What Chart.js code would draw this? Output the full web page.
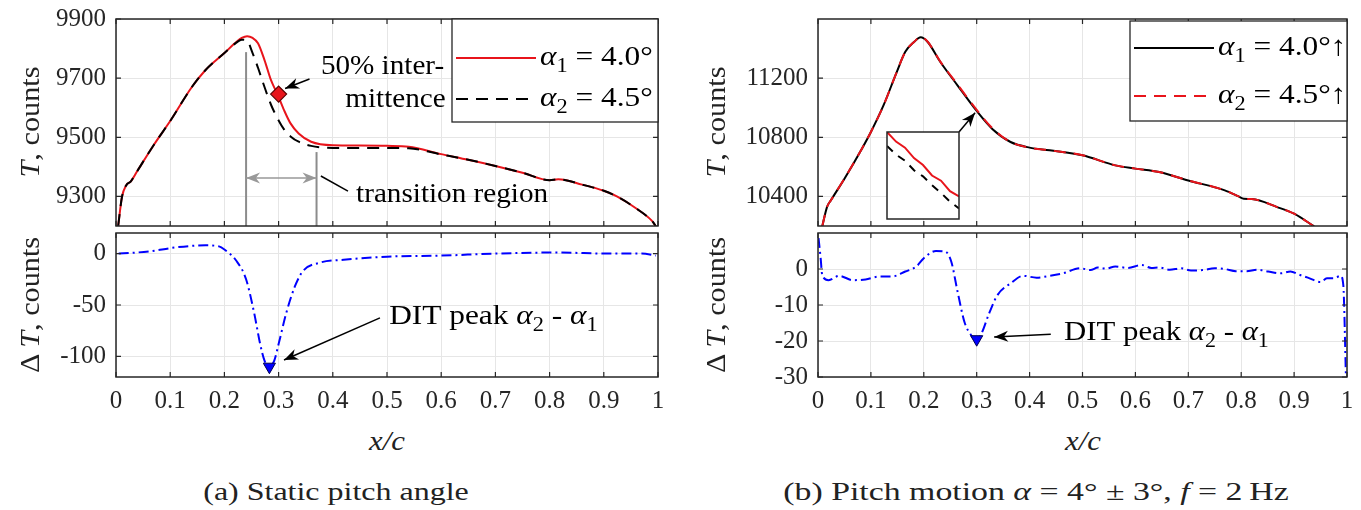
<!DOCTYPE html>
<html>
<head>
<meta charset="utf-8">
<script src="https://cdn.jsdelivr.net/npm/chart.js@4"></script>
<style>
body { margin: 0; background: #fff; }
#wrap { position: relative; width: 1361px; height: 510px; overflow: hidden; font-family: "Liberation Serif", serif; color: #222; }
canvas { position: absolute; }
.ytitle { position: absolute; transform: translate(-50%, -50%) rotate(-90deg) scaleX(1.08); white-space: nowrap; font-size: 28px; }
.xtitle { position: absolute; transform: translate(-50%, -50%) scaleX(1.1); font-size: 28px; font-style: italic; }
.cap { position: absolute; white-space: nowrap; font-size: 26px; }
</style>
</head>
<body>
<div id="wrap">
  <canvas id="cA1" width="680" height="230" style="left:0;top:0"></canvas>
  <canvas id="cA2" width="680" height="188" style="left:0;top:230px"></canvas>
  <canvas id="cB1" width="681" height="230" style="left:680px;top:0"></canvas>
  <canvas id="cB2" width="681" height="188" style="left:680px;top:230px"></canvas>
  <canvas id="cIn" width="74" height="89" style="left:886px;top:131px"></canvas>

  <div class="ytitle" style="left:30px;top:122px"><i>T</i>, counts</div>
  <div class="ytitle" style="left:30px;top:305px">&Delta; <i>T</i>, counts</div>
  <div class="ytitle" style="left:716px;top:122px"><i>T</i>, counts</div>
  <div class="ytitle" style="left:716px;top:305px">&Delta; <i>T</i>, counts</div>
  <div class="xtitle" style="left:387px;top:441px">x/c</div>
  <div class="xtitle" style="left:1083px;top:441px">x/c</div>
  <div class="cap" style="left:336px;top:492px;transform:translate(-50%,-50%) scaleX(1.23)">(a) Static pitch angle</div>
  <div class="cap" style="left:1036px;top:492px;transform:translate(-50%,-50%) scaleX(1.3)">(b) Pitch motion <i>&alpha;</i> = 4&deg; &plusmn; 3&deg;, <i>f</i> = 2&thinsp;Hz</div>
</div>

<script>
// ---- (a) static pitch angle, temperature ----
const xA  = [0.004, 0.011, 0.019, 0.027, 0.039, 0.07, 0.1, 0.14, 0.164, 0.2, 0.222, 0.232, 0.242, 0.252, 0.262, 0.274, 0.286, 0.298, 0.31, 0.322, 0.337, 0.36, 0.4, 0.45, 0.5, 0.54, 0.6, 0.65, 0.7, 0.75, 0.8, 0.816, 0.86, 0.9, 0.925, 0.96, 0.988, 0.996];
const tA1 = [9200, 9298, 9338, 9350, 9385, 9475, 9555, 9670, 9725, 9785, 9822, 9836, 9842, 9836, 9818, 9761, 9693, 9645, 9592, 9547, 9513, 9485, 9473, 9472, 9471, 9468, 9443, 9424, 9403, 9380, 9355, 9358, 9340, 9319, 9299, 9259, 9219, 9200];
const tA2 = [9200, 9298, 9338, 9350, 9385, 9475, 9555, 9670, 9725, 9785, 9820, 9830, 9826, 9785, 9735, 9670, 9610, 9564, 9527, 9503, 9485, 9471, 9464, 9464, 9464, 9463, 9442, 9424, 9403, 9380, 9355, 9358, 9340, 9319, 9299, 9259, 9219, 9200];
// ---- (a) difference alpha2 - alpha1 ----
const xDA = [0.005, 0.06, 0.11, 0.165, 0.19, 0.2, 0.222, 0.24, 0.255, 0.266, 0.274, 0.282, 0.292, 0.3, 0.314, 0.33, 0.345, 0.375, 0.42, 0.5, 0.6, 0.7, 0.81, 0.91, 0.97, 0.996];
const dTA = [0, 2, 6, 8, 7, 4, -7, -25, -58, -88, -104, -110, -104, -88, -58, -32, -17, -9, -6, -3, -2, 0, 1, 0, 0, -2];

// ---- (b) pitch motion, temperature ----
const xB  = [0.008, 0.017, 0.025, 0.05, 0.083, 0.1, 0.124, 0.149, 0.165, 0.182, 0.194, 0.207, 0.231, 0.264, 0.3, 0.33, 0.364, 0.4, 0.438, 0.5, 0.562, 0.6, 0.645, 0.7, 0.769, 0.795, 0.805, 0.82, 0.868, 0.9, 0.938];
const tB1 = [10197, 10328, 10377, 10520, 10723, 10836, 11017, 11243, 11378, 11446, 11476, 11446, 11311, 11150, 10978, 10855, 10768, 10730, 10712, 10678, 10610, 10588, 10565, 10508, 10441, 10400, 10384, 10382, 10328, 10283, 10197];
const tB2 = [10197, 10328, 10377, 10520, 10723, 10836, 11017, 11243, 11378, 11446, 11478, 11448, 11313, 11156, 10985, 10860, 10768, 10730, 10712, 10678, 10610, 10588, 10565, 10508, 10441, 10400, 10384, 10382, 10328, 10283, 10197];
// ---- (b) difference ----
const xDB = [0.001, 0.005, 0.008, 0.02, 0.04, 0.066, 0.09, 0.116, 0.14, 0.165, 0.186, 0.2, 0.223, 0.24, 0.252, 0.264, 0.277, 0.29, 0.3, 0.31, 0.322, 0.339, 0.364, 0.388, 0.413, 0.438, 0.463, 0.496, 0.515, 0.529, 0.545, 0.562, 0.585, 0.612, 0.63, 0.645, 0.665, 0.686, 0.705, 0.727, 0.75, 0.769, 0.79, 0.81, 0.83, 0.851, 0.875, 0.893, 0.91, 0.926, 0.95, 0.962, 0.975, 0.988, 0.993, 0.998];
const dTB = [8.6, 3, -1.7, -3.1, -1.9, -3.1, -2.9, -2.1, -2.1, -0.7, 0.7, 3, 5, 4.9, 2, -6.4, -14.8, -18.5, -19.9, -17.6, -12.9, -7.3, -4, -1.9, -2.4, -1.9, -1.2, 0.2, -0.3, 0.4, 0.1, 0.7, 0.3, 1.1, 0.3, 0.4, -0.2, 0.2, -0.4, -0.3, 0.2, 0, -0.6, -0.6, -0.2, -0.7, -1.2, -0.7, -1.6, -2.4, -3.6, -2.6, -2.6, -1.9, -4.5, -30];
// ---- (b) zoom inset ----
const xIn   = [0.296, 0.297, 0.298, 0.299, 0.3, 0.301, 0.302, 0.303, 0.304];
const inRed = [11000, 10994.5, 10991, 10985, 10981, 10975, 10972, 10966, 10963];
const inBlk = [10992, 10987, 10983.5, 10978, 10974.5, 10969.5, 10965, 10960, 10956];

// markers and tick values
const intermittence = [0.3, 9646];
const ditPeakA = [0.283, -110];
const ditPeakB = [0.3, -19.5];
const transition = [0.24, 0.37];
const xTicks = [0, 0.1, 0.2, 0.3, 0.4, 0.5, 0.6, 0.7, 0.8, 0.9, 1];
const yTicksA1 = [9300, 9500, 9700, 9900];
const yTicksA2 = [-100, -50, 0];
const yTicksB1 = [10400, 10800, 11200];
const yTicksB2 = [-30, -20, -10, 0];

const pts = (xs, ys) => xs.map((x, i) => ({ x: x, y: ys[i] }));
const FONT = '"Liberation Serif", serif';
const D = {};

// text pieces: [text, 'i' italic | 's' subscript], drawn slightly stretched like the source figure
function drawRich(ctx, x, y, parts, size, k) {
    ctx.save();
    ctx.translate(x, y);
    ctx.scale(k || 1.1, 1);
    ctx.textBaseline = 'middle';
    ctx.textAlign = 'left';
    let cx = 0;
    for (const [t, st] of parts) {
        const fs = st === 's' ? Math.round(size * 0.7) : size;
        ctx.font = (st === 'i' ? 'italic ' : '') + fs + 'px ' + FONT;
        ctx.fillText(t, cx, st === 's' ? size * 0.32 : 0);
        cx += ctx.measureText(t).width;
    }
    ctx.restore();
}

function arrow(ctx, x1, y1, x2, y2, color, heads) {
    ctx.strokeStyle = color;
    ctx.fillStyle = color;
    ctx.lineWidth = 1.5;
    ctx.setLineDash([]);
    ctx.beginPath();
    ctx.moveTo(x1, y1);
    ctx.lineTo(x2, y2);
    ctx.stroke();
    const head = (x, y, a) => {
        const L = 14, W = 5.5;
        const c = Math.cos(a), s = Math.sin(a);
        ctx.beginPath();
        ctx.moveTo(x, y);
        ctx.lineTo(x - L * c + W * s, y - L * s - W * c);
        ctx.lineTo(x - L * 0.7 * c, y - L * 0.7 * s);
        ctx.lineTo(x - L * c - W * s, y - L * s + W * c);
        ctx.closePath();
        ctx.fill();
    };
    const ang = Math.atan2(y2 - y1, x2 - x1);
    if (heads >= 1) head(x2, y2, ang);
    if (heads >= 2) head(x1, y1, ang + Math.PI);
}

const deco = {
    id: 'deco',
    beforeDatasetsDraw(chart) {
        const d = D[chart.canvas.id] || {};
        if (!d.white) return;
        const a = chart.chartArea;
        chart.ctx.save();
        chart.ctx.fillStyle = '#fff';
        chart.ctx.fillRect(a.left, a.top, a.right - a.left, a.bottom - a.top);
        chart.ctx.restore();
    },
    afterDraw(chart) {
        const d = D[chart.canvas.id] || {};
        const { ctx, chartArea: a } = chart;
        const sx = chart.scales.x, sy = chart.scales.y;
        ctx.save();
        ctx.setLineDash([]);
        ctx.strokeStyle = '#262626';
        ctx.lineWidth = 1.5;
        ctx.strokeRect(a.left, a.top, a.right - a.left, a.bottom - a.top);
        if (!d.noTicks) {
            ctx.lineWidth = 1.2;
            ctx.beginPath();
            sx.ticks.forEach(t => {
                const p = sx.getPixelForValue(t.value);
                ctx.moveTo(p, a.bottom); ctx.lineTo(p, a.bottom - 5);
                ctx.moveTo(p, a.top); ctx.lineTo(p, a.top + 5);
            });
            sy.ticks.forEach(t => {
                const p = sy.getPixelForValue(t.value);
                ctx.moveTo(a.left, p); ctx.lineTo(a.left + 5, p);
                ctx.moveTo(a.right, p); ctx.lineTo(a.right - 5, p);
            });
            ctx.stroke();
        }
        (d.arrows || []).forEach(r => arrow(ctx,
            sx.getPixelForValue(r.from[0]), sy.getPixelForValue(r.from[1]),
            sx.getPixelForValue(r.to[0]), sy.getPixelForValue(r.to[1]), r.color, r.heads));
        (d.texts || []).forEach(t => {
            ctx.fillStyle = '#000';
            drawRich(ctx, sx.getPixelForValue(t.at[0]), sy.getPixelForValue(t.at[1]), t.parts, t.size, t.k);
        });
        if (d.legend) {
            const L = d.legend;
            const lx = a.right - L.w, ly = a.top + L.dy;
            ctx.fillStyle = '#fff';
            ctx.fillRect(lx, ly, L.w, L.h);
            ctx.strokeStyle = '#262626';
            ctx.lineWidth = 1.3;
            ctx.strokeRect(lx, ly, L.w, L.h);
            L.rows.forEach(r => {
                ctx.strokeStyle = r.color;
                ctx.lineWidth = 2;
                ctx.setLineDash(r.dash || []);
                ctx.beginPath();
                ctx.moveTo(lx + 4, ly + r.y);
                ctx.lineTo(lx + 84, ly + r.y);
                ctx.stroke();
                ctx.setLineDash([]);
                ctx.fillStyle = '#000';
                drawRich(ctx, lx + 88, ly + r.y, r.parts, 28, 1.12);
            });
        }
        ctx.restore();
    }
};

function panel(id, o) {
    const tickFont = { family: FONT, size: 25 };
    return new Chart(document.getElementById(id), {
        type: 'scatter',
        data: { datasets: o.datasets },
        options: {
            responsive: false,
            animation: false,
            devicePixelRatio: 1,
            layout: { padding: o.pad, autoPadding: false },
            plugins: { legend: { display: false }, tooltip: { enabled: false } },
            elements: { line: { cubicInterpolationMode: 'monotone' } },
            scales: {
                x: {
                    type: 'linear', min: 0, max: 1,
                    afterBuildTicks: s => { s.ticks = xTicks.map(v => ({ value: v })); },
                    afterFit: s => { s.height = o.xh; s.paddingLeft = 0; s.paddingRight = 0; },
                    grid: { color: '#e6e6e6', drawTicks: false },
                    border: { display: false },
                    ticks: { display: o.xLabels, padding: 9, font: tickFont, color: '#262626', maxRotation: 0, callback: v => String(v) }
                },
                y: {
                    type: 'linear', min: o.ymin, max: o.ymax,
                    afterBuildTicks: s => { s.ticks = o.yTicks.map(v => ({ value: v })); },
                    afterFit: s => { s.width = o.yw; s.paddingTop = 0; s.paddingBottom = 0; },
                    grid: { color: '#e6e6e6', drawTicks: false },
                    border: { display: false },
                    ticks: { padding: 10, font: tickFont, color: '#262626', callback: v => String(v) }
                }
            }
        },
        plugins: [deco]
    });
}

// lower dataset index is drawn on top
const line = (data, color, width, dash) => ({
    data: data, showLine: true, borderColor: color, borderWidth: width,
    borderDash: dash || [], pointRadius: 0, fill: false
});

// ---------- (a) top ----------
D.cA1 = {
    arrows: [
        { from: [0.357, 9697], to: [0.312, 9665], color: '#000', heads: 1 },
        { from: [transition[0], 9362], to: [transition[1], 9362], color: '#999', heads: 2 },
        { from: [0.378, 9369], to: [0.428, 9318], color: '#000', heads: 0 }
    ],
    texts: [
        { at: [0.378, 9738], parts: [['50% inter-']], size: 27, k: 1.08 },
        { at: [0.423, 9626], parts: [['mittence']], size: 27, k: 1.08 },
        { at: [0.443, 9305], parts: [['transition region']], size: 27, k: 1.08 }
    ],
    legend: {
        w: 206, h: 103, dy: 0,
        rows: [
            { y: 39, color: '#e8141b', parts: [['α', 'i'], ['1', 's'], [' = 4.0°']] },
            { y: 80, color: '#000', dash: [12, 8], parts: [['α', 'i'], ['2', 's'], [' = 4.5°']] }
        ]
    }
};
panel('cA1', {
    pad: { left: 0, right: 22, top: 19, bottom: 4 }, xh: 0, yw: 116, xLabels: false,
    ymin: 9200, ymax: 9900, yTicks: yTicksA1,
    datasets: [
        { data: [{ x: intermittence[0], y: intermittence[1] }], pointStyle: 'rectRot', pointRadius: 8,
          backgroundColor: '#e8141b', borderColor: '#5a0000', borderWidth: 1.2 },
        line(pts(xA, tA2), '#000', 2, [12, 8]),
        line(pts(xA, tA1), '#e8141b', 2),
        line([{ x: transition[0], y: 9788 }, { x: transition[0], y: 9200 }], '#8c8c8c', 2),
        line([{ x: transition[1], y: 9450 }, { x: transition[1], y: 9200 }], '#8c8c8c', 2)
    ]
});

// ---------- (a) bottom ----------
D.cA2 = {
    arrows: [{ from: [0.487, -62.5], to: [0.31, -103.5], color: '#000', heads: 1 }],
    texts: [{ at: [0.504, -61.5], parts: [['DIT peak '], ['α', 'i'], ['2', 's'], [' - '], ['α', 'i'], ['1', 's']], size: 28, k: 1.12 }]
};
panel('cA2', {
    pad: { left: 0, right: 22, top: 3, bottom: 0 }, xh: 41, yw: 116, xLabels: true,
    ymin: -120, ymax: 20, yTicks: yTicksA2,
    datasets: [
        { data: [{ x: ditPeakA[0], y: ditPeakA[1] }], pointStyle: 'triangle', rotation: 180, pointRadius: 7,
          backgroundColor: '#0000ff', borderColor: '#000050', borderWidth: 1 },
        line(pts(xDA, dTA), '#0000ff', 2, [10, 4, 2, 4])
    ]
});

// ---------- (b) top ----------
D.cB1 = {
    arrows: [{ from: [0.2665, 10836], to: [0.297, 10966], color: '#000', heads: 1 }],
    legend: {
        w: 217, h: 100, dy: 2,
        rows: [
            { y: 27, color: '#000', parts: [['α', 'i'], ['1', 's'], [' = 4.0°↑']] },
            { y: 75, color: '#e8141b', dash: [12, 8], parts: [['α', 'i'], ['2', 's'], [' = 4.5°↑']] }
        ]
    }
};
panel('cB1', {
    pad: { left: 0, right: 14, top: 19, bottom: 4 }, xh: 0, yw: 138, xLabels: false,
    ymin: 10200, ymax: 11600, yTicks: yTicksB1,
    datasets: [
        line(pts(xB, tB2), '#e8141b', 2, [12, 8]),
        line(pts(xB, tB1), '#000', 2)
    ]
});

// ---------- (b) bottom ----------
D.cB2 = {
    arrows: [{ from: [0.44, -18.1], to: [0.333, -18.9], color: '#000', heads: 1 }],
    texts: [{ at: [0.465, -17.8], parts: [['DIT peak '], ['α', 'i'], ['2', 's'], [' - '], ['α', 'i'], ['1', 's']], size: 28, k: 1.1 }]
};
panel('cB2', {
    pad: { left: 0, right: 14, top: 3, bottom: 0 }, xh: 41, yw: 138, xLabels: true,
    ymin: -30, ymax: 10, yTicks: yTicksB2,
    datasets: [
        { data: [{ x: ditPeakB[0], y: ditPeakB[1] }], pointStyle: 'triangle', rotation: 180, pointRadius: 7,
          backgroundColor: '#0000ff', borderColor: '#000050', borderWidth: 1 },
        line(pts(xDB, dTB), '#0000ff', 2, [10, 4, 2, 4])
    ]
});

// ---------- (b) inset ----------
D.cIn = { white: true, noTicks: true };
new Chart(document.getElementById('cIn'), {
    type: 'scatter',
    data: { datasets: [
        line(pts(xIn, inRed), '#e8141b', 2),
        line(pts(xIn, inBlk), '#000', 2, [8, 7])
    ] },
    options: {
        responsive: false, animation: false, devicePixelRatio: 1,
        layout: { padding: 1, autoPadding: false },
        plugins: { legend: { display: false }, tooltip: { enabled: false } },
        scales: {
            x: { type: 'linear', display: false, min: 0.296, max: 0.304 },
            y: { type: 'linear', display: false, min: 10950, max: 11000 }
        }
    },
    plugins: [deco]
});
</script>
</body>
</html>
